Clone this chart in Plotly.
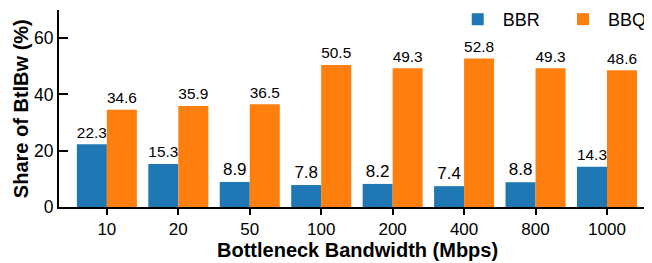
import plotly.graph_objects as go

categories = ["10", "20", "50", "100", "200", "400", "800", "1000"]
bbr = [22.3, 15.3, 8.9, 7.8, 8.2, 7.4, 8.8, 14.3]
bbq = [34.6, 35.9, 36.5, 50.5, 49.3, 52.8, 49.3, 48.6]
y_ticks = [0, 20, 40, 60]

xpos = list(range(len(categories)))
FONT = "Liberation Sans, Arial, sans-serif"

fig = go.Figure()
fig.add_trace(go.Bar(x=xpos, y=bbr, name="BBR", marker_color="#1f77b4",
                     text=[f"{v:.1f}" for v in bbr], textposition="outside",
                     textfont=dict(size=17, color="black", family=FONT),
                     cliponaxis=False, marker_line_width=0, legend="legend"))
fig.add_trace(go.Bar(x=xpos, y=bbq, name="BBQ", marker_color="#ff7f0e",
                     text=[f"{v:.1f}" for v in bbq], textposition="outside",
                     textfont=dict(size=17, color="black", family=FONT),
                     cliponaxis=False, marker_line_width=0, legend="legend2"))

leg_common = dict(orientation="h", y=1.046, yanchor="top",
                  font=dict(size=18, family=FONT), bgcolor="rgba(0,0,0,0)",
                  itemwidth=40)

fig.update_layout(
    width=644, height=255,
    margin=dict(l=51, r=0, t=2, b=56, autoexpand=False),
    barmode="group", bargap=0.16, bargroupgap=0,
    plot_bgcolor="white", paper_bgcolor="white",
    font=dict(family=FONT, size=17, color="black"),
    showlegend=True,
    legend=dict(x=0.664, xanchor="left", **leg_common),
    legend2=dict(x=1.0, xanchor="right", **leg_common),
    xaxis=dict(
        range=[-0.67, 7.63], tickmode="array", tickvals=xpos, ticktext=categories,
        showline=True, linecolor="black", linewidth=2, ticks="outside",
        ticklen=6, tickwidth=2, tickcolor="black", showgrid=False, zeroline=False,
        tickfont=dict(size=17), automargin=False,
    ),
    yaxis=dict(
        range=[0, 70], tickmode="array", tickvals=y_ticks,
        showline=True, linecolor="black", linewidth=2, ticks="inside",
        ticklen=9, tickwidth=2, tickcolor="black", showgrid=False, zeroline=False,
        tickfont=dict(size=17.5), automargin=False, layer="above traces",
    ),
    annotations=[
        dict(text="<b>Bottleneck Bandwidth (Mbps)</b>", xref="paper", yref="paper",
             x=0.503, y=-0.218, xanchor="center", yanchor="middle", showarrow=False,
             font=dict(size=20, family=FONT, color="black")),
        dict(text="<b>Share of BtlBw (%)</b>", xref="paper", yref="paper",
             x=-0.064, y=0.497, xanchor="center", yanchor="middle", showarrow=False,
             textangle=-90, font=dict(size=20, family=FONT, color="black")),
    ],
)

fig.write_html("out.html")
